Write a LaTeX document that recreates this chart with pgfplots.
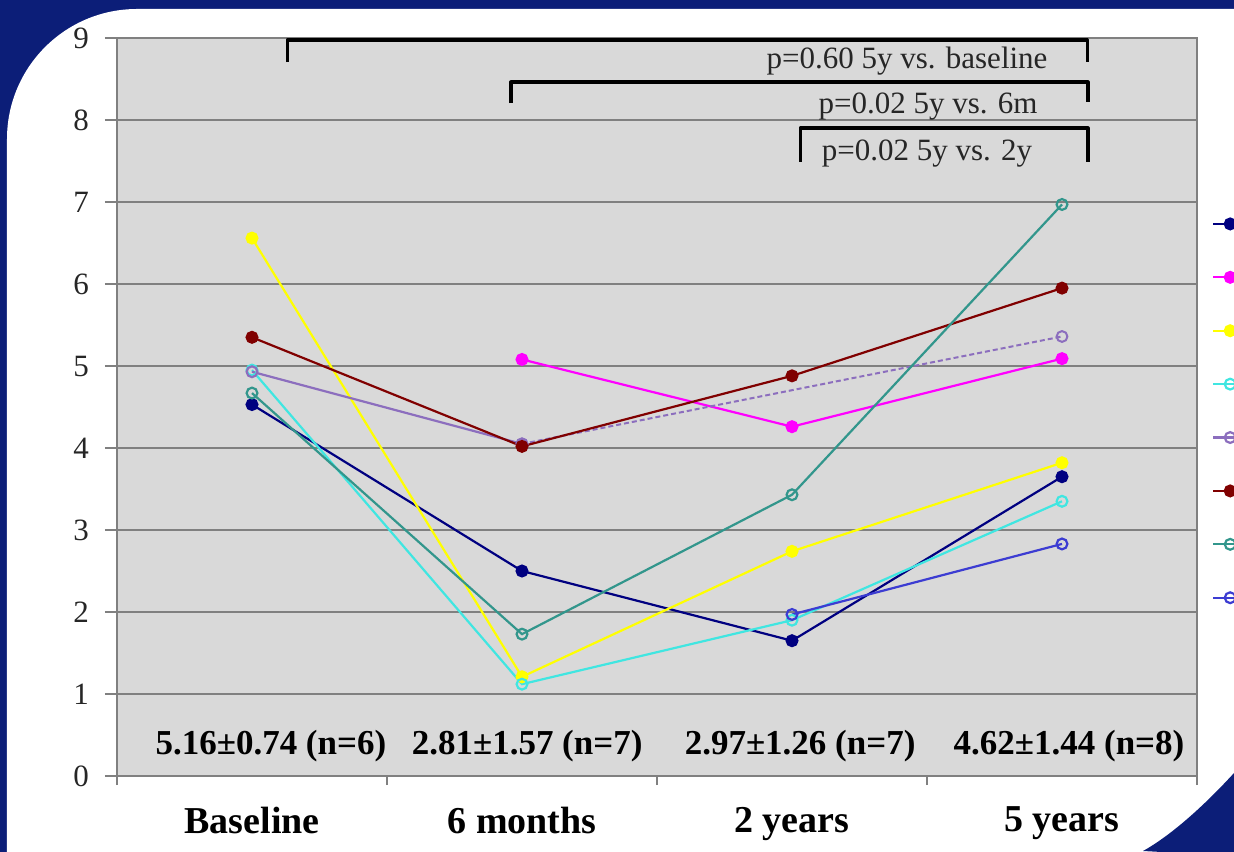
\documentclass[border=0pt]{standalone}
\usepackage{fontspec}
\setmainfont{Liberation Serif}
\usepackage{pgfplots}
\pgfplotsset{compat=1.18}
\definecolor{bgblue}{RGB}{12,30,120}
\definecolor{plotbg}{RGB}{217,217,217}
\definecolor{gridc}{RGB}{128,128,128}
\definecolor{openfill}{RGB}{232,232,232}
\definecolor{c1}{RGB}{0,0,128}
\definecolor{c2}{RGB}{255,0,255}
\definecolor{c3}{RGB}{255,255,0}
\definecolor{c4}{RGB}{64,230,225}
\definecolor{c5}{RGB}{140,110,190}
\definecolor{c6}{RGB}{128,0,0}
\definecolor{c7}{RGB}{50,150,140}
\definecolor{c8}{RGB}{60,60,210}
\begin{document}
\begin{tikzpicture}
\useasboundingbox (-58.5pt,-37.5pt) rectangle (558.5pt,388pt);
\clip (-58.5pt,-37.5pt) rectangle (558.5pt,388pt);
\fill[bgblue] (-60pt,-40pt) rectangle (560pt,390pt);
\fill[white, rounded corners=65pt] (-55pt,-120pt) -- (-55pt,383.5pt) -- (700pt,383.5pt) -- (700pt,-120pt) -- cycle;
\fill[bgblue] (558.5pt,1.5pt) .. controls (548pt,-10pt) and (530pt,-28pt) .. (513pt,-37.5pt) -- (560pt,-40pt) -- (560pt,1.5pt) -- cycle;
\begin{axis}[
  at={(0,0)}, anchor=south west,
  scale only axis, width=540pt, height=369pt,
  xmin=-0.5, xmax=3.5, ymin=0, ymax=9,
  clip=false,
  axis background/.style={fill=plotbg},
  axis line style={draw=gridc, line width=1pt},
  ytick={0,...,9},
  ymajorgrids,
  grid style={draw=gridc, line width=1pt},
  tick align=outside,
  xtick pos=bottom, ytick pos=left,
  major tick length=6pt,
  minor tick length=4.5pt,
  tick style={draw=gridc, line width=1pt},
  xtick={0,1,2,3},
  xticklabels={Baseline,6 months,2 years,5 years},
  major x tick style={draw=none},
  minor xtick={-0.5,0.5,1.5,2.5,3.5},
  minor x tick style={draw=gridc, line width=1pt},
  xticklabel style={font=\bfseries\fontsize{19}{19}\selectfont, text=black, yshift=-6pt},
  yticklabel style={font=\fontsize{15.5}{16}\selectfont, text=black!85, xshift=-4.5pt},
  /pgf/number format/assume math mode=true,
  legend style={at={(1.0139,0.7554)}, anchor=north west, draw=none, fill=none,
    inner sep=0pt, outer sep=0pt, row sep=21.3pt,
    nodes={inner sep=0pt, font=\fontsize{5}{5}\selectfont}},
  legend cell align=left,
]
\addplot[c1, line width=1.1pt, mark=*, mark size=2.7pt, mark options={fill=c1}]
  coordinates {(0,4.53) (1,2.50) (2,1.65) (3,3.65)};
\addlegendentry{}
\addplot[c2, line width=1.1pt, mark=*, mark size=2.7pt, mark options={fill=c2}]
  coordinates {(1,5.08) (2,4.26) (3,5.09)};
\addlegendentry{}
\addplot[c3, line width=1.1pt, mark=*, mark size=2.7pt, mark options={fill=c3}]
  coordinates {(0,6.56) (1,1.21) (2,2.74) (3,3.82)};
\addlegendentry{}
\addplot[c4, line width=1.1pt, mark=o, mark size=2.7pt, mark options={fill=openfill}]
  coordinates {(0,4.95) (1,1.12) (2,1.90) (3,3.35)};
\addlegendentry{}
\addplot[c5, line width=1.1pt, mark=o, mark size=2.7pt, mark options={fill=openfill}]
  coordinates {(0,4.93) (1,4.05)};
\addlegendentry{}
\addplot[c5, line width=1pt, dash pattern=on 2.5pt off 1.5pt, mark=o, mark size=2.7pt, mark options={fill=openfill, solid}, forget plot]
  coordinates {(1,4.05) (3,5.36)};
\addplot[c6, line width=1.1pt, mark=*, mark size=2.7pt, mark options={fill=c6}]
  coordinates {(0,5.35) (1,4.02) (2,4.88) (3,5.95)};
\addlegendentry{}
\addplot[c7, line width=1.1pt, mark=o, mark size=2.7pt, mark options={fill=openfill}]
  coordinates {(0,4.67) (1,1.73) (2,3.43) (3,6.97)};
\addlegendentry{}
\addplot[c8, line width=1.1pt, mark=o, mark size=2.7pt, mark options={fill=openfill}]
  coordinates {(2,1.97) (3,2.83)};
\addlegendentry{}
% brackets
\draw[black, line width=1.6pt, line join=round] (axis cs:0.130,8.707) -- (axis cs:0.130,8.976) -- (axis cs:3.093,8.976) -- (axis cs:3.093,8.707);
\draw[black, line width=1.6pt, line join=round] (axis cs:0.959,8.207) -- (axis cs:0.959,8.463) -- (axis cs:3.096,8.463) -- (axis cs:3.096,8.22);
\draw[black, line width=1.6pt, line join=round] (axis cs:2.030,7.488) -- (axis cs:2.030,7.902) -- (axis cs:3.096,7.902) -- (axis cs:3.096,7.488);
\node[anchor=base, font=\fontsize{15.5}{16}\selectfont, text=black!85] at (axis cs:2.426,8.63) {p=0.60 5y vs. baseline};
\node[anchor=base, font=\fontsize{15.5}{16}\selectfont, text=black!85] at (axis cs:2.504,8.085) {p=0.02 5y vs. 6m};
\node[anchor=base, font=\fontsize{15.5}{16}\selectfont, text=black!85] at (axis cs:2.50,7.51) {p=0.02 5y vs. 2y};
% means
\node[anchor=base, font=\bfseries\fontsize{17.5}{18}\selectfont] at (axis cs:0.070,0.26) {5.16±0.74 (n=6)};
\node[anchor=base, font=\bfseries\fontsize{17.5}{18}\selectfont] at (axis cs:1.019,0.26) {2.81±1.57 (n=7)};
\node[anchor=base, font=\bfseries\fontsize{17.5}{18}\selectfont] at (axis cs:2.030,0.26) {2.97±1.26 (n=7)};
\node[anchor=base, font=\bfseries\fontsize{17.5}{18}\selectfont] at (axis cs:3.026,0.26) {4.62±1.44 (n=8)};
\end{axis}
\end{tikzpicture}
\end{document}
